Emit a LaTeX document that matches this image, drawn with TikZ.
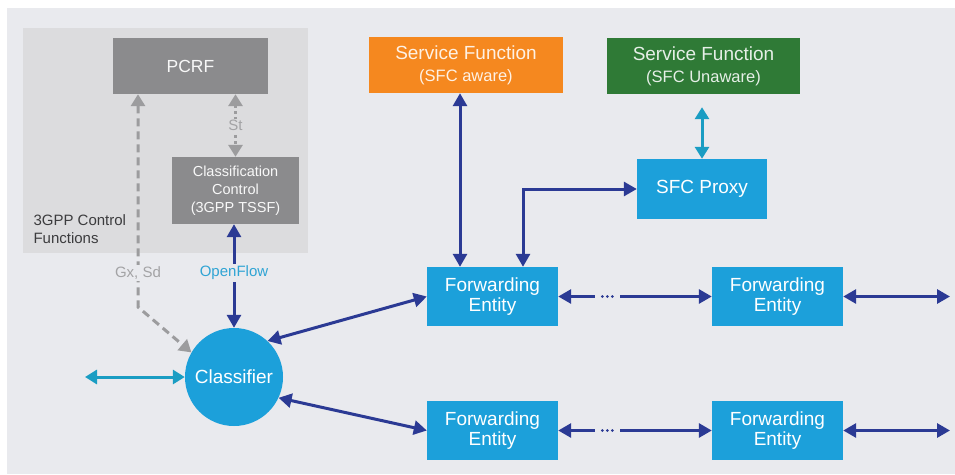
\documentclass[tikz,border=0pt]{standalone}
\usepackage{fontspec}
\setmainfont{Liberation Sans}
\usetikzlibrary{arrows.meta,calc}

\definecolor{bgc}{HTML}{E9EAEE}
\definecolor{panelc}{HTML}{DCDCDE}
\definecolor{boxgray}{HTML}{8B8B8D}
\definecolor{boxblue}{HTML}{1CA0DA}
\definecolor{boxorange}{HTML}{F5881F}
\definecolor{boxgreen}{HTML}{2F7A36}
\definecolor{dblue}{HTML}{2B3A94}
\definecolor{cyanarr}{HTML}{1A9DC3}
\definecolor{dashgray}{HTML}{9C9C9E}
\definecolor{ofblue}{HTML}{2FA4D4}
\definecolor{labelgray}{HTML}{A3A3A5}
\definecolor{darktext}{HTML}{3C3C3E}

\tikzset{
  boxbase/.style={rectangle, inner sep=0pt, align=center},
  graybox/.style={boxbase, fill=boxgray, text=white!94!boxgray},
  bluebox/.style={boxbase, fill=boxblue, text=white,
    minimum width=131pt, minimum height=59pt,
    font=\fontsize{19}{20}\selectfont},
  sfbox/.style={boxbase, fill=#1, text=white!88!#1, minimum width=194pt,
    minimum height=56pt, font=\fontsize{19}{22}\selectfont},
  linkdark/.style={draw=dblue, line width=3pt, {Triangle[length=13pt,width=14pt]}-{Triangle[length=13pt,width=14pt]}},
  linkcyan/.style={draw=cyanarr, line width=3pt, {Triangle[length=12pt,width=14pt]}-{Triangle[length=12pt,width=14pt]}},
  linkgray/.style={draw=dashgray, line width=3pt, dash pattern=on 8pt off 5pt,
    {Triangle[length=12pt,width=14pt]}-{Triangle[length=12pt,width=14pt]}},
  linkst/.style={draw=dashgray, line width=3pt, dash pattern=on 3pt off 3pt,
    {Triangle[length=12pt,width=14pt]}-{Triangle[length=12pt,width=14pt]}},
  gap/.style={fill=#1, inner sep=2pt},
  dotsgap/.style={fill=bgc, inner sep=0pt, minimum width=25pt, minimum height=6pt},
}

\begin{document}
\begin{tikzpicture}[x=1pt,y=-1pt]
\useasboundingbox (0,0) rectangle (955,474);
\fill[white] (0,0) rectangle (955,474);
\fill[bgc] (7,8) rectangle (955,474);

% 3GPP control functions area
\fill[panelc] (23,28) rectangle (308,253);
\node[anchor=west, align=left, text=darktext, font=\fontsize{15}{18}\selectfont]
  (ctrl) at (30,229) {3GPP Control\\Functions};

\node[graybox, minimum width=155pt, minimum height=56pt,
  font=\fontsize{17.5}{20}\selectfont] (pcrf) at (190.5,66) {PCRF};
\node[graybox, minimum width=127pt, minimum height=67pt,
  font=\fontsize{14.5}{18}\selectfont] (cc) at (235.5,190.5)
  {Classification\\Control\\(3GPP TSSF)};

% classifier
\node[circle, fill=boxblue, text=white, minimum size=98pt, inner sep=0pt,
  font=\fontsize{19}{20}\selectfont] (cls) at (234,377) {Classifier};

% service functions
\node[sfbox=boxorange] (sfa) at (466,65)
  {Service Function\\{\fontsize{16.5}{20}\selectfont (SFC aware)}};
\node[sfbox=boxgreen, minimum width=193pt] (sfu) at (703.5,66)
  {Service Function\\{\fontsize{16.5}{20}\selectfont (SFC Unaware)}};

\node[bluebox, minimum width=130pt, minimum height=60pt] (proxy) at (702,189) {SFC Proxy};

% forwarding entities
\node[bluebox] (fe1) at (492.5,296.5) {Forwarding\\Entity};
\node[bluebox] (fe2) at (492.5,430.5) {Forwarding\\Entity};
\node[bluebox] (fe3) at (777.5,296.5) {Forwarding\\Entity};
\node[bluebox] (fe4) at (777.5,430.5) {Forwarding\\Entity};

% free ends and bends
\coordinate (gxbend) at (138,307);
\coordinate (inleft) at (85,377);
\coordinate (out1) at (950,296.5);
\coordinate (out2) at (950,430.5);
\coordinate (sfax) at (460,0);
\coordinate (prx) at (523,0);

% control-plane links
\draw[linkgray] (pcrf.south -| gxbend) -- (gxbend) -- (cls.150);
\node[gap=bgc, text=labelgray, font=\fontsize{15}{18}\selectfont] (gxl) at (138,273) {Gx, Sd};
\draw[linkst] (pcrf.south -| cc.north) -- (cc.north)
  node[midway, gap=panelc, inner sep=1pt, text=labelgray, font=\fontsize{15}{18}\selectfont] (stl) {St};
\draw[linkdark] (cc.south -| cls.north) -- (cls.north)
  node[pos=0.47, gap=bgc, text=ofblue, font=\fontsize{15}{18}\selectfont] (ofl) {OpenFlow};

% data-plane links
\draw[linkcyan] (inleft) -- (cls.west);
\draw[linkdark] (cls.47) -- (fe1.west);
\draw[linkdark] (cls.-25) -- (fe2.west);

\draw[linkdark] (fe1.east) -- (fe3.west) node[pos=0.32, dotsgap] (d1) {};
\draw[linkdark] (fe2.east) -- (fe4.west) node[pos=0.32, dotsgap] (d2) {};
\foreach \d in {d1,d2}
  \foreach \dx in {-5,0,5}
    \fill[dblue] ($(\d)+(\dx,0)$) circle[radius=1.5pt];
\draw[linkdark] (fe3.east) -- (out1);
\draw[linkdark] (fe4.east) -- (out2);

\draw[linkdark] (sfa.south -| sfax) -- (fe1.north -| sfax);
\draw[linkdark] (fe1.north -| prx) -- (prx |- proxy.west) -- (proxy.west);
\draw[linkcyan, shorten <=13pt] (sfu.south -| proxy.north) -- (proxy.north);
\end{tikzpicture}
\end{document}
